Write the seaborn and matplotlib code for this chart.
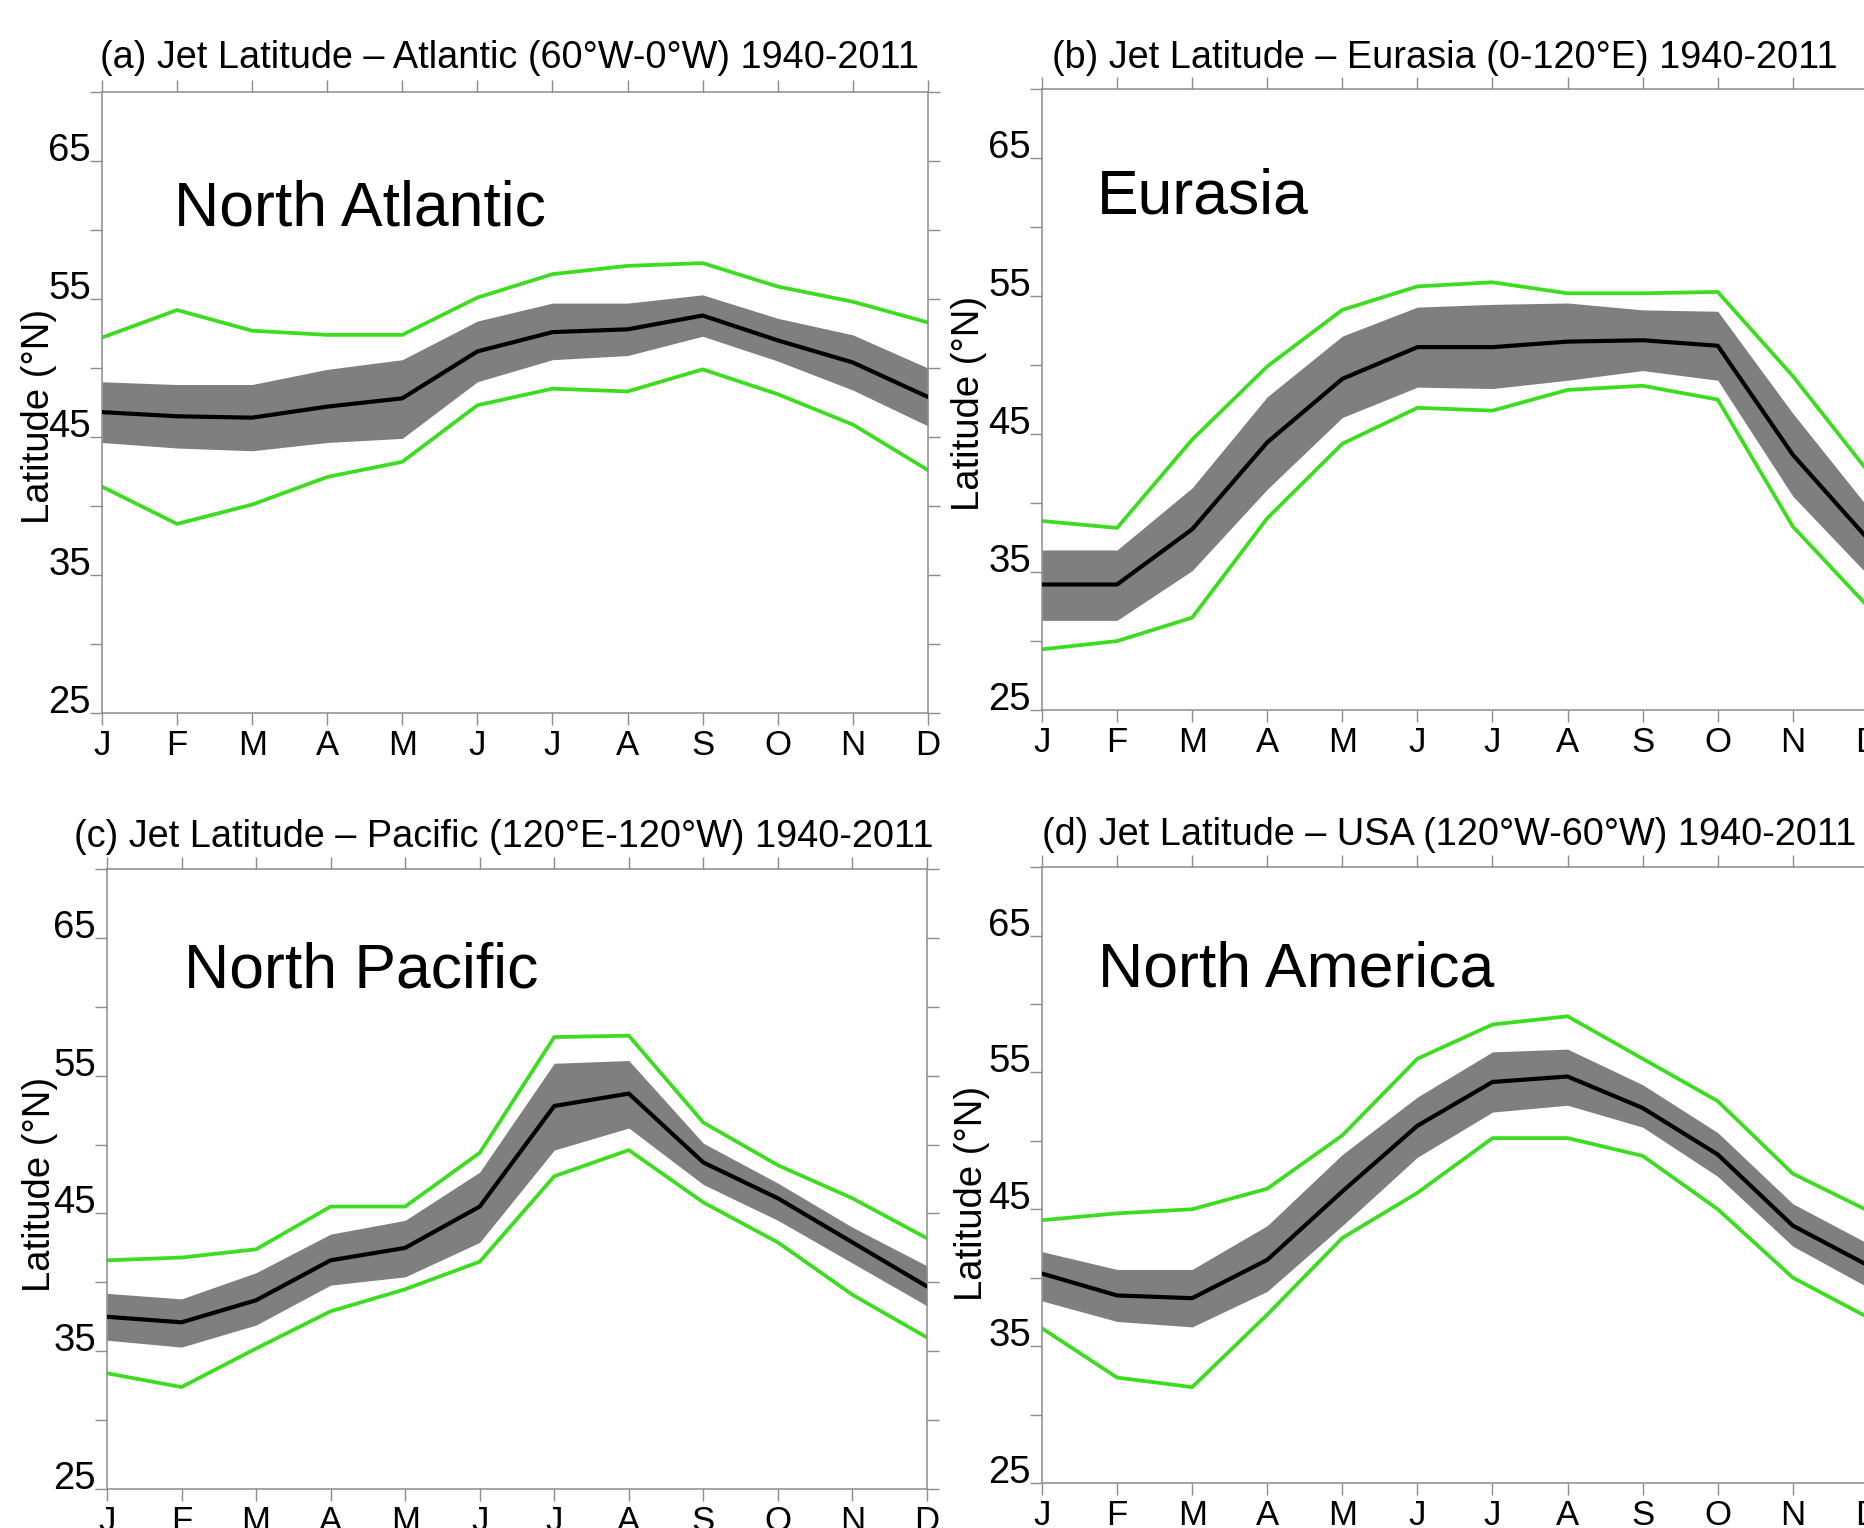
import numpy as np
import pandas as pd
import matplotlib
matplotlib.use("Agg")
import matplotlib.pyplot as plt
import seaborn as sns

sns.set_theme(style="white")
plt.rcParams["font.family"] = ["Liberation Sans", "DejaVu Sans"]
plt.rcParams.update({"text.color": "black", "axes.labelcolor": "black",
                     "xtick.color": "black", "ytick.color": "black"})

# ── DATA ─────────────────────────────────────────────────────────────────────
months = ["J", "F", "M", "A", "M", "J", "J", "A", "S", "O", "N", "D"]

titles = [
    "(a) Jet Latitude – Atlantic (60°W-0°W) 1940-2011",
    "(b) Jet Latitude – Eurasia (0-120°E) 1940-2011",
    "(c) Jet Latitude – Pacific (120°E-120°W) 1940-2011",
    "(d) Jet Latitude – USA (120°W-60°W) 1940-2011",
]
regions = ["North Atlantic", "Eurasia", "North Pacific", "North America"]

# (a) Atlantic
atl_mean = [46.8, 46.5, 46.4, 47.2, 47.8, 51.2, 52.6, 52.8, 53.8, 52.0, 50.4, 47.9]
atl_band_hi = [49.0, 48.8, 48.8, 49.9, 50.6, 53.4, 54.7, 54.7, 55.3, 53.6, 52.4, 50.0]
atl_band_lo = [44.6, 44.2, 44.0, 44.6, 44.9, 49.0, 50.6, 50.9, 52.3, 50.5, 48.4, 45.8]
atl_ext_hi = [52.2, 54.2, 52.7, 52.4, 52.4, 55.1, 56.8, 57.4, 57.6, 55.9, 54.8, 53.3]
atl_ext_lo = [41.4, 38.7, 40.1, 42.1, 43.2, 47.3, 48.5, 48.3, 49.9, 48.1, 45.9, 42.6]

# (b) Eurasia
eur_mean = [34.1, 34.1, 38.1, 44.4, 49.0, 51.3, 51.3, 51.7, 51.8, 51.4, 43.5, 37.4]
eur_band_hi = [36.6, 36.6, 41.1, 47.7, 52.1, 54.2, 54.4, 54.5, 54.0, 53.9, 46.5, 39.7]
eur_band_lo = [31.5, 31.5, 35.1, 41.0, 46.2, 48.4, 48.3, 48.9, 49.6, 48.9, 40.5, 34.8]
eur_ext_hi = [38.7, 38.2, 44.6, 49.9, 54.0, 55.7, 56.0, 55.2, 55.2, 55.3, 49.2, 42.3]
eur_ext_lo = [29.4, 30.0, 31.7, 38.9, 44.3, 46.9, 46.7, 48.2, 48.5, 47.5, 38.3, 32.5]

# (c) Pacific
pac_mean = [37.5, 37.1, 38.7, 41.6, 42.5, 45.5, 52.8, 53.7, 48.7, 46.1, 42.9, 39.7]
pac_band_hi = [39.2, 38.8, 40.7, 43.5, 44.5, 48.0, 55.9, 56.1, 50.1, 47.2, 44.0, 41.2]
pac_band_lo = [35.8, 35.3, 36.9, 39.8, 40.4, 42.9, 49.6, 51.2, 47.1, 44.5, 41.4, 38.3]
pac_ext_hi = [41.6, 41.8, 42.4, 45.5, 45.5, 49.4, 57.8, 57.9, 51.6, 48.5, 46.1, 43.2]
pac_ext_lo = [33.4, 32.4, 35.2, 37.9, 39.5, 41.5, 47.7, 49.6, 45.8, 42.9, 39.1, 36.0]

# (d) USA
usa_mean = [40.3, 38.7, 38.5, 41.3, 46.3, 51.1, 54.3, 54.7, 52.4, 49.0, 43.8, 40.9]
usa_band_hi = [41.9, 40.6, 40.6, 43.8, 49.0, 53.2, 56.5, 56.7, 54.1, 50.6, 45.4, 42.5]
usa_band_lo = [38.3, 36.8, 36.4, 39.0, 43.8, 48.8, 52.1, 52.6, 51.0, 47.4, 42.3, 39.3]
usa_ext_hi = [44.2, 44.7, 45.0, 46.5, 50.4, 56.0, 58.5, 59.1, 56.0, 52.9, 47.6, 44.9]
usa_ext_lo = [36.3, 32.7, 32.0, 37.3, 42.9, 46.2, 50.2, 50.2, 48.9, 45.0, 40.0, 37.1]

series = [
    (atl_mean, atl_band_lo, atl_band_hi, atl_ext_lo, atl_ext_hi),
    (eur_mean, eur_band_lo, eur_band_hi, eur_ext_lo, eur_ext_hi),
    (pac_mean, pac_band_lo, pac_band_hi, pac_ext_lo, pac_ext_hi),
    (usa_mean, usa_band_lo, usa_band_hi, usa_ext_lo, usa_ext_hi),
]

# ── LAYOUT ───────────────────────────────────────────────────────────────────
positions = [
    [0.0547, 0.5334, 0.4431, 0.4064],
    [0.5590, 0.5353, 0.4431, 0.4064],
    [0.0574, 0.0255, 0.4399, 0.4058],
    [0.5590, 0.0295, 0.4431, 0.4030],
]
title_x = [0.493, 0.488, 0.484, 0.493]
title_pad = [17, 15.5, 16, 16]
ylabel_xy = [(-0.0545, 0.478), (-0.0666, 0.494), (-0.0598, 0.492), (-0.063, 0.47)]
region_xy = [(0.96, 60.3), (0.73, 61.0), (1.03, 61.4), (0.75, 61.3)]

GREEN = "#3cdc1e"
GREY = "#7f7f7f"
AXCOL = "#8c8c8c"

fig = plt.figure(figsize=(18.64, 15.28), dpi=100)
x = np.arange(len(months))

for i in range(4):
    ax = fig.add_axes(positions[i])
    mean, blo, bhi, elo, ehi = series[i]
    df = pd.DataFrame({"m": x, "mean": mean, "blo": blo, "bhi": bhi,
                       "elo": elo, "ehi": ehi})

    ax.fill_between(df["m"], df["blo"], df["bhi"], color=GREY, lw=0, zorder=1)
    sns.lineplot(data=df, x="m", y="ehi", color=GREEN, lw=2.7, ax=ax, zorder=2)
    sns.lineplot(data=df, x="m", y="elo", color=GREEN, lw=2.7, ax=ax, zorder=2)
    sns.lineplot(data=df, x="m", y="mean", color="black", lw=3.0, ax=ax, zorder=3)

    ax.set_xlim(0, 11)
    ax.set_ylim(25, 70)
    ax.set_xticks(x)
    ax.set_xticklabels(months, fontsize=25)
    ax.set_yticks([25, 35, 45, 55, 65])
    ax.set_yticks([30, 40, 50, 60, 70], minor=True)
    ax.set_yticklabels(["25", "35", "45", "55", "65"], fontsize=27.5, va="baseline")

    ax.tick_params(axis="x", which="both", direction="out", length=8.6, width=1,
                   color=AXCOL, top=True, bottom=True, labeltop=False, pad=3.0)
    ax.tick_params(axis="y", which="both", direction="out", length=8.6, width=1,
                   color=AXCOL, left=True, right=True, labelright=False, pad=-0.7)
    for sp in ax.spines.values():
        sp.set_color(AXCOL)
        sp.set_linewidth(1.1)

    ax.set_xlabel("")
    ax.set_ylabel("Latitude (°N)", fontsize=27.5)
    ax.yaxis.set_label_coords(*ylabel_xy[i])
    ax.set_title(titles[i], fontsize=27.3, pad=title_pad[i], x=title_x[i])
    ax.text(region_xy[i][0], region_xy[i][1], regions[i], fontsize=45,
            ha="left", va="baseline")
    ax.grid(False)

fig.savefig("out.png", dpi=100)
